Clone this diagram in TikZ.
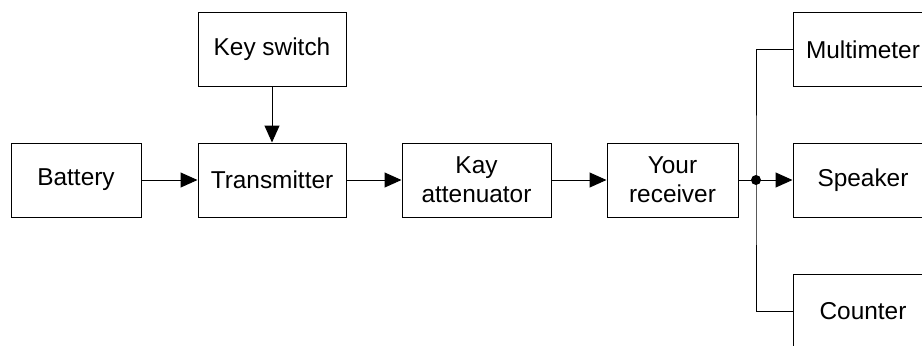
\documentclass[tikz,border=0pt]{standalone}
\usepackage{fontspec}
\setmainfont{Liberation Sans}
\usetikzlibrary{arrows.meta}
\begin{document}
\begin{tikzpicture}[
        x=0.5pt, y=-0.5pt,
        every node/.style={draw, minimum height=37pt, align=center, font=\fontsize{12.2}{14.6}\selectfont, inner sep=1pt, line width=0.5pt},
        ar/.style={-{Triangle[length=8.5pt, width=7.5pt]}, line width=0.5pt},
        ln/.style={line width=0.5pt},
    ]
    \clip (0,0) rectangle (922,345);
    \useasboundingbox (0,0) rectangle (922,345);

    \node[minimum width=65pt](bat) at (76,180) {Battery};
    \node[minimum width=74pt](key) at (272,49.5) {Key switch};
    \node[minimum width=74pt](tx) at (272,180) {Transmitter};
    \node[minimum width=74.5pt](att) at (476.5,180) {Kay\\attenuator};
    \node[minimum width=65.5pt](rx) at (672.5,180) {Your\\receiver};
    \node[minimum width=70pt](mm) at (863,49.5) {Multimeter};
    \node[minimum width=70pt](spk) at (863,180) {Speaker};
    \node[minimum width=70pt](cnt) at (863,311) {Counter};
    \coordinate (j) at (756,180);

    \path[ar]
    (bat) edge (tx)
    (key) edge (tx)
    (tx) edge (att)
    (att) edge (rx)
    (j) edge (spk)
    ;
    \draw[ln] (rx) -- (j);
    \draw[ln] (mm.west) -| (j) |- (cnt.west);
    \fill (j) circle (2.5pt);
    \end{tikzpicture}
\end{document}
